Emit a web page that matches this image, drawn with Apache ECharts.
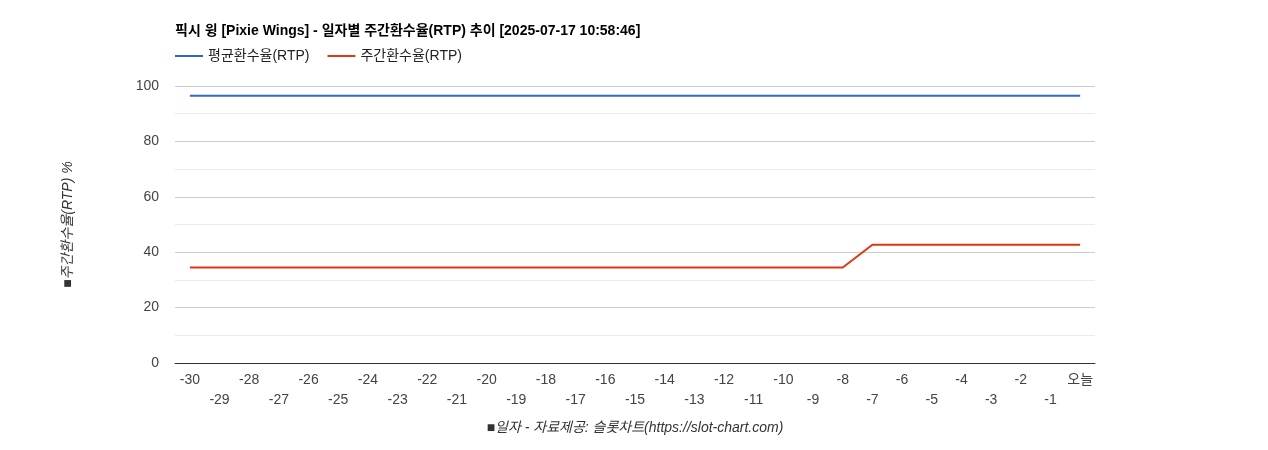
<!DOCTYPE html>
<html><head><meta charset="utf-8">
<script src="https://cdn.jsdelivr.net/npm/echarts@6/dist/echarts.min.js"></script>
<style>html,body{margin:0;padding:0;background:#fff}#c{width:1268px;height:450px}</style>
</head><body><div id="c"></div>
<script>
const categories = ['-30','-29','-28','-27','-26','-25','-24','-23','-22','-21','-20','-19','-18','-17','-16','-15','-14','-13','-12','-11','-10','-9','-8','-7','-6','-5','-4','-3','-2','-1','오늘'];
const avgRTP = categories.map(() => 96.5);
const weeklyRTP = [34.5,34.5,34.5,34.5,34.5,34.5,34.5,34.5,34.5,34.5,34.5,34.5,34.5,34.5,34.5,34.5,34.5,34.5,34.5,34.5,34.5,34.5,34.5,42.7,42.7,42.7,42.7,42.7,42.7,42.7,42.7];
const font = 'Arial, "Liberation Sans", "Noto Sans CJK KR", sans-serif';
const chart = echarts.init(document.getElementById('c'));
chart.setOption({
  animation:false,
  textStyle:{fontFamily:font},
  title:{text:'픽시 윙 [Pixie Wings] - 일자별 주간환수율(RTP) 추이 [2025-07-17 10:58:46]',left:170,top:19,textStyle:{fontSize:14,fontWeight:'bold',color:'#000',fontFamily:font}},
  legend:{left:170,top:44,itemWidth:28,itemHeight:2,itemGap:18,icon:'rect',textStyle:{fontSize:14,color:'#222',fontFamily:font},data:['평균환수율(RTP)','주간환수율(RTP)']},
  grid:{left:175,right:173,top:86,bottom:87},
  xAxis:{type:'category',data:categories,boundaryGap:true,
    name:'■일자 - 자료제공: 슬롯차트(https://slot-chart.com)',nameLocation:'middle',nameGap:58,
    nameTextStyle:{fontStyle:'italic',fontSize:14,color:'#333',fontFamily:font},
    axisLine:{lineStyle:{color:'#333'}},axisTick:{show:false},
    axisLabel:{interval:0,fontSize:14,color:'#444',lineHeight:20,margin:7,formatter:(v,i)=> i%2 ? '\n'+v : v}},
  yAxis:{type:'value',min:0,max:100,interval:20,
    name:'■주간환수율(RTP) %',nameLocation:'middle',nameGap:100,
    nameTextStyle:{fontStyle:'italic',fontSize:14,color:'#333',fontFamily:font},
    axisLabel:{fontSize:14,color:'#444',margin:16,padding:[4,0,0,0]},
    splitLine:{lineStyle:{color:'#ccc'}},
    minorTick:{show:false,splitNumber:2},minorSplitLine:{show:true,lineStyle:{color:'#ebebeb'}}},
  series:[
    {name:'평균환수율(RTP)',type:'line',data:avgRTP,symbol:'none',lineStyle:{color:'#3366cc',width:2},itemStyle:{color:'#3366cc'}},
    {name:'주간환수율(RTP)',type:'line',data:weeklyRTP,symbol:'none',lineStyle:{color:'#dc3912',width:2},itemStyle:{color:'#dc3912'}}
  ]
});
</script></body></html>
